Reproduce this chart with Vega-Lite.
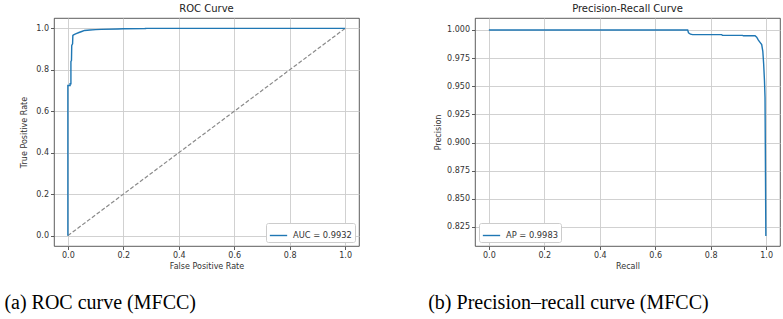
{
  "$schema": "https://vega.github.io/schema/vega-lite/v6.json",
  "padding": {"left": 4, "top": 3, "right": 5, "bottom": 4},
  "background": "white",
  "datasets": {
    "roc": [
      {"i": 0, "fpr": 0, "tpr": 0, "series": "AUC = 0.9932"},
      {"i": 1, "fpr": 0, "tpr": 0.724, "series": "AUC = 0.9932"},
      {"i": 2, "fpr": 0.008, "tpr": 0.724, "series": "AUC = 0.9932"},
      {"i": 3, "fpr": 0.008, "tpr": 0.733, "series": "AUC = 0.9932"},
      {"i": 4, "fpr": 0.011, "tpr": 0.733, "series": "AUC = 0.9932"},
      {"i": 5, "fpr": 0.011, "tpr": 0.84, "series": "AUC = 0.9932"},
      {"i": 6, "fpr": 0.013, "tpr": 0.845, "series": "AUC = 0.9932"},
      {"i": 7, "fpr": 0.014, "tpr": 0.918, "series": "AUC = 0.9932"},
      {"i": 8, "fpr": 0.017, "tpr": 0.925, "series": "AUC = 0.9932"},
      {"i": 9, "fpr": 0.018, "tpr": 0.966, "series": "AUC = 0.9932"},
      {"i": 10, "fpr": 0.022, "tpr": 0.97, "series": "AUC = 0.9932"},
      {"i": 11, "fpr": 0.03, "tpr": 0.975, "series": "AUC = 0.9932"},
      {"i": 12, "fpr": 0.04, "tpr": 0.98, "series": "AUC = 0.9932"},
      {"i": 13, "fpr": 0.05, "tpr": 0.985, "series": "AUC = 0.9932"},
      {"i": 14, "fpr": 0.06, "tpr": 0.99, "series": "AUC = 0.9932"},
      {"i": 15, "fpr": 0.08, "tpr": 0.992, "series": "AUC = 0.9932"},
      {"i": 16, "fpr": 0.1, "tpr": 0.994, "series": "AUC = 0.9932"},
      {"i": 17, "fpr": 0.12, "tpr": 0.995, "series": "AUC = 0.9932"},
      {"i": 18, "fpr": 0.18, "tpr": 0.997, "series": "AUC = 0.9932"},
      {"i": 19, "fpr": 0.2, "tpr": 0.998, "series": "AUC = 0.9932"},
      {"i": 20, "fpr": 0.28, "tpr": 0.999, "series": "AUC = 0.9932"},
      {"i": 21, "fpr": 0.28, "tpr": 1.0, "series": "AUC = 0.9932"},
      {"i": 22, "fpr": 1.0, "tpr": 1.0, "series": "AUC = 0.9932"}
    ],
    "diag": [
      {"fpr": 0, "tpr": 0},
      {"fpr": 1, "tpr": 1}
    ],
    "pr": [
      {"i": 0, "recall": 0, "precision": 1.0, "series": "AP = 0.9983"},
      {"i": 1, "recall": 0.717, "precision": 1.0, "series": "AP = 0.9983"},
      {"i": 2, "recall": 0.72, "precision": 0.9975, "series": "AP = 0.9983"},
      {"i": 3, "recall": 0.727, "precision": 0.9962, "series": "AP = 0.9983"},
      {"i": 4, "recall": 0.735, "precision": 0.9958, "series": "AP = 0.9983"},
      {"i": 5, "recall": 0.84, "precision": 0.9958, "series": "AP = 0.9983"},
      {"i": 6, "recall": 0.842, "precision": 0.9952, "series": "AP = 0.9983"},
      {"i": 7, "recall": 0.915, "precision": 0.9952, "series": "AP = 0.9983"},
      {"i": 8, "recall": 0.918, "precision": 0.9948, "series": "AP = 0.9983"},
      {"i": 9, "recall": 0.96, "precision": 0.9948, "series": "AP = 0.9983"},
      {"i": 10, "recall": 0.966, "precision": 0.9935, "series": "AP = 0.9983"},
      {"i": 11, "recall": 0.972, "precision": 0.991, "series": "AP = 0.9983"},
      {"i": 12, "recall": 0.978, "precision": 0.989, "series": "AP = 0.9983"},
      {"i": 13, "recall": 0.984, "precision": 0.987, "series": "AP = 0.9983"},
      {"i": 14, "recall": 0.988, "precision": 0.981, "series": "AP = 0.9983"},
      {"i": 15, "recall": 0.991, "precision": 0.97, "series": "AP = 0.9983"},
      {"i": 16, "recall": 0.994, "precision": 0.955, "series": "AP = 0.9983"},
      {"i": 17, "recall": 0.996, "precision": 0.94, "series": "AP = 0.9983"},
      {"i": 18, "recall": 0.997, "precision": 0.9, "series": "AP = 0.9983"},
      {"i": 19, "recall": 0.999, "precision": 0.817, "series": "AP = 0.9983"}
    ]
  },
  "hconcat": [
    {
      "title": {"text": "(a) ROC curve (MFCC)", "orient": "bottom", "anchor": "start", "font": "Liberation Serif", "fontSize": 20, "fontWeight": "normal", "color": "#000", "offset": 22, "dx": -16},
      "resolve": {"scale": {"color": "independent"}, "legend": {"color": "independent"}},
      "vconcat": [
        {
          "title": {"text": "ROC Curve", "font": "DejaVu Sans", "fontSize": 10, "fontWeight": "normal", "color": "#222", "offset": 4},
          "width": 305,
          "height": 228,
          "layer": [
            {
              "data": {"name": "diag"},
              "mark": {"type": "line", "color": "#8a8a8a", "strokeWidth": 1.2, "strokeDash": [4, 2]},
              "encoding": {
                "x": {"field": "fpr", "type": "quantitative"},
                "y": {"field": "tpr", "type": "quantitative"}
              }
            },
            {
              "data": {"name": "roc"},
              "mark": {"type": "line", "strokeWidth": 1.4},
              "encoding": {
                "x": {"field": "fpr", "type": "quantitative", "title": "False Positive Rate", "scale": {"domain": [-0.05, 1.05], "nice": false, "zero": false}, "axis": {"values": [0, 0.2, 0.4, 0.6, 0.8, 1.0], "format": ".1f"}},
                "y": {"field": "tpr", "type": "quantitative", "title": "True Positive Rate", "scale": {"domain": [-0.05, 1.05], "nice": false, "zero": false}, "axis": {"values": [0, 0.2, 0.4, 0.6, 0.8, 1.0], "format": ".1f", "titlePadding": 7}},
                "order": {"field": "i", "type": "quantitative"},
                "color": {"field": "series", "type": "nominal", "scale": {"domain": ["AUC = 0.9932"], "range": ["#1f77b4"]}, "legend": {"title": null, "orient": "bottom-right", "offset": 4}}
              }
            }
          ]
        }
      ]
    },
    {
      "title": {"text": "(b) Precision–recall curve (MFCC)", "orient": "bottom", "anchor": "start", "font": "Liberation Serif", "fontSize": 20, "fontWeight": "normal", "color": "#000", "offset": 22, "dx": -6},
      "resolve": {"scale": {"color": "independent"}, "legend": {"color": "independent"}},
      "vconcat": [
        {
          "title": {"text": "Precision-Recall Curve", "font": "DejaVu Sans", "fontSize": 10, "fontWeight": "normal", "color": "#222", "offset": 4},
          "width": 305,
          "height": 228,
          "data": {"name": "pr"},
          "mark": {"type": "line", "strokeWidth": 1.4},
          "encoding": {
            "x": {"field": "recall", "type": "quantitative", "title": "Recall", "scale": {"domain": [-0.05, 1.05], "nice": false, "zero": false}, "axis": {"values": [0, 0.2, 0.4, 0.6, 0.8, 1.0], "format": ".1f"}},
            "y": {"field": "precision", "type": "quantitative", "title": "Precision", "scale": {"domain": [0.8081, 1.0106], "nice": false, "zero": false}, "axis": {"values": [0.825, 0.85, 0.875, 0.9, 0.925, 0.95, 0.975, 1.0], "format": ".3f", "titlePadding": 4}},
            "order": {"field": "i", "type": "quantitative"},
            "color": {"field": "series", "type": "nominal", "scale": {"domain": ["AP = 0.9983"], "range": ["#1f77b4"]}, "legend": {"title": null, "orient": "bottom-left", "offset": 4}}
          }
        }
      ]
    }
  ],
  "spacing": 68,
  "resolve": {"scale": {"color": "independent", "x": "independent", "y": "independent"}, "legend": {"color": "independent"}},
  "config": {
    "view": {"stroke": "#333", "strokeWidth": 0.8},
    "axis": {
      "labelFont": "DejaVu Sans", "labelFontSize": 8, "labelColor": "#333",
      "titleFont": "DejaVu Sans", "titleFontSize": 8, "titleFontWeight": "normal", "titleColor": "#333",
      "gridColor": "#cccccc", "gridWidth": 0.9, "grid": true,
      "tickColor": "#333", "tickSize": 3.5, "tickWidth": 0.8,
      "domain": false, "labelPadding": 2, "titlePadding": 3,
      "labelFlush": false, "labelOverlap": false
    },
    "legend": {
      "labelFont": "DejaVu Sans", "labelFontSize": 8.3, "labelColor": "#333",
      "symbolType": "stroke", "symbolSize": 300, "symbolStrokeWidth": 1.4,
      "strokeColor": "#cccccc", "fillColor": "white", "padding": 3, "cornerRadius": 2,
      "labelOffset": 5, "rowPadding": 0
    }
  }
}
